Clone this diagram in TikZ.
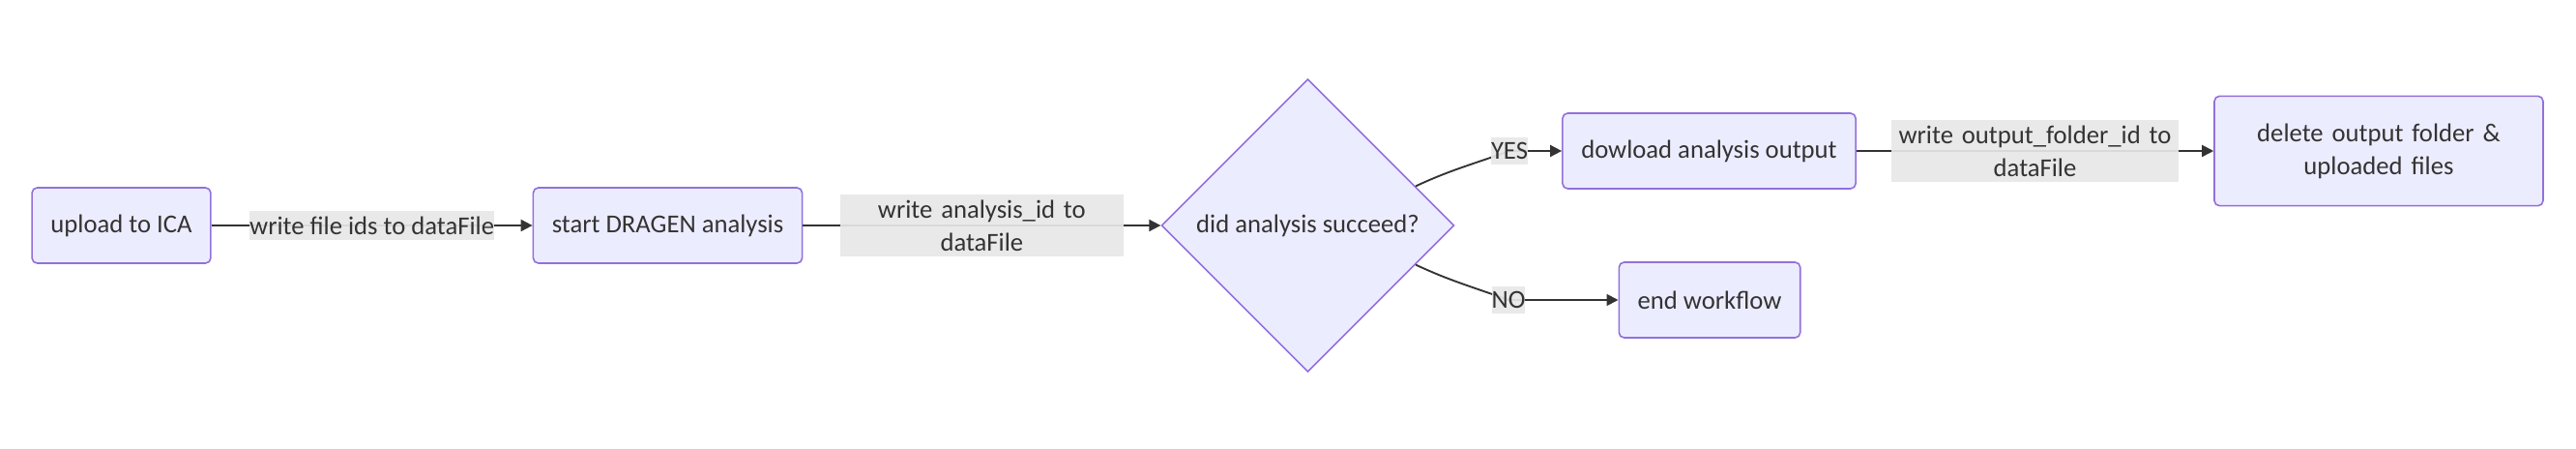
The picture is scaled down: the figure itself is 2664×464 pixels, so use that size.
\documentclass[tikz,border=0pt]{standalone}
\usepackage{fontspec}
\setmainfont{Carlito}
\usetikzlibrary{shapes.geometric,arrows.meta}
\definecolor{boxfill}{HTML}{ECECFF}
\definecolor{boxline}{HTML}{9370DB}
\definecolor{lblfill}{HTML}{E8E8E8}
\definecolor{ink}{HTML}{333333}
\begin{document}
\begin{tikzpicture}[x = 0.75pt, y = 0.75pt,
        every node/.style = {font = \fontsize{20}{25.5}\selectfont, text = ink},
        box/.style = {draw = boxline, fill = boxfill, line width = 1.2pt, rounded corners = 4pt, minimum height = 58.5pt, inner xsep = 14.5pt},
        decide/.style = {diamond, draw = boxline, fill = boxfill, line width = 1.2pt, aspect = 1, minimum width = 227pt, minimum height = 227pt, inner sep = 0pt},
        lbl/.style = {fill = lblfill, fill opacity = 0.92, text opacity = 1, inner xsep = 0pt, inner ysep = 4pt, align = center},
        arr/.style = {draw = ink, line width = 1.4pt, -{Triangle[length = 9pt, width = 9pt]}}]
    \path[fill = white] (0, 0) rectangle (2664, 464);

    \node[box] (up) at (125.5, 231) {upload to ICA};
    \node[box] (st) at (690.5, 231) {start DRAGEN analysis};
    \node[decide] (dec) at (1352.5, 231) {did analysis succeed?};
    \node[box] (dl) at (1767.5, 308) {dowload analysis output};
    \node[box, text width = 226pt, align = center, minimum height = 85pt] (del) at (2460, 308) {delete output folder \&\\uploaded files};
    \node[box] (ew) at (1768, 154) {end workflow};
    \coordinate (yesat) at (1561, 308);
    \coordinate (noat) at (1560, 154);

    \draw[arr] (up) -- node[lbl] {write file ids to dataFile} (st);
    \draw[arr] (st) -- node[lbl, text width = 220pt] {write analysis\_id to\\dataFile} (dec);
    \draw[arr] (dec.20) to[out = 25, in = 200] node[lbl, pos = 1] {YES} (yesat) -- (dl.west);
    \draw[arr] (dec.-20) to[out = -25, in = 160] node[lbl, pos = 1] {NO} (noat) -- (ew.west);
    \draw[arr] (dl) -- node[lbl, text width = 223pt] {write output\_folder\_id to\\dataFile} (del);
\end{tikzpicture}
\end{document}
